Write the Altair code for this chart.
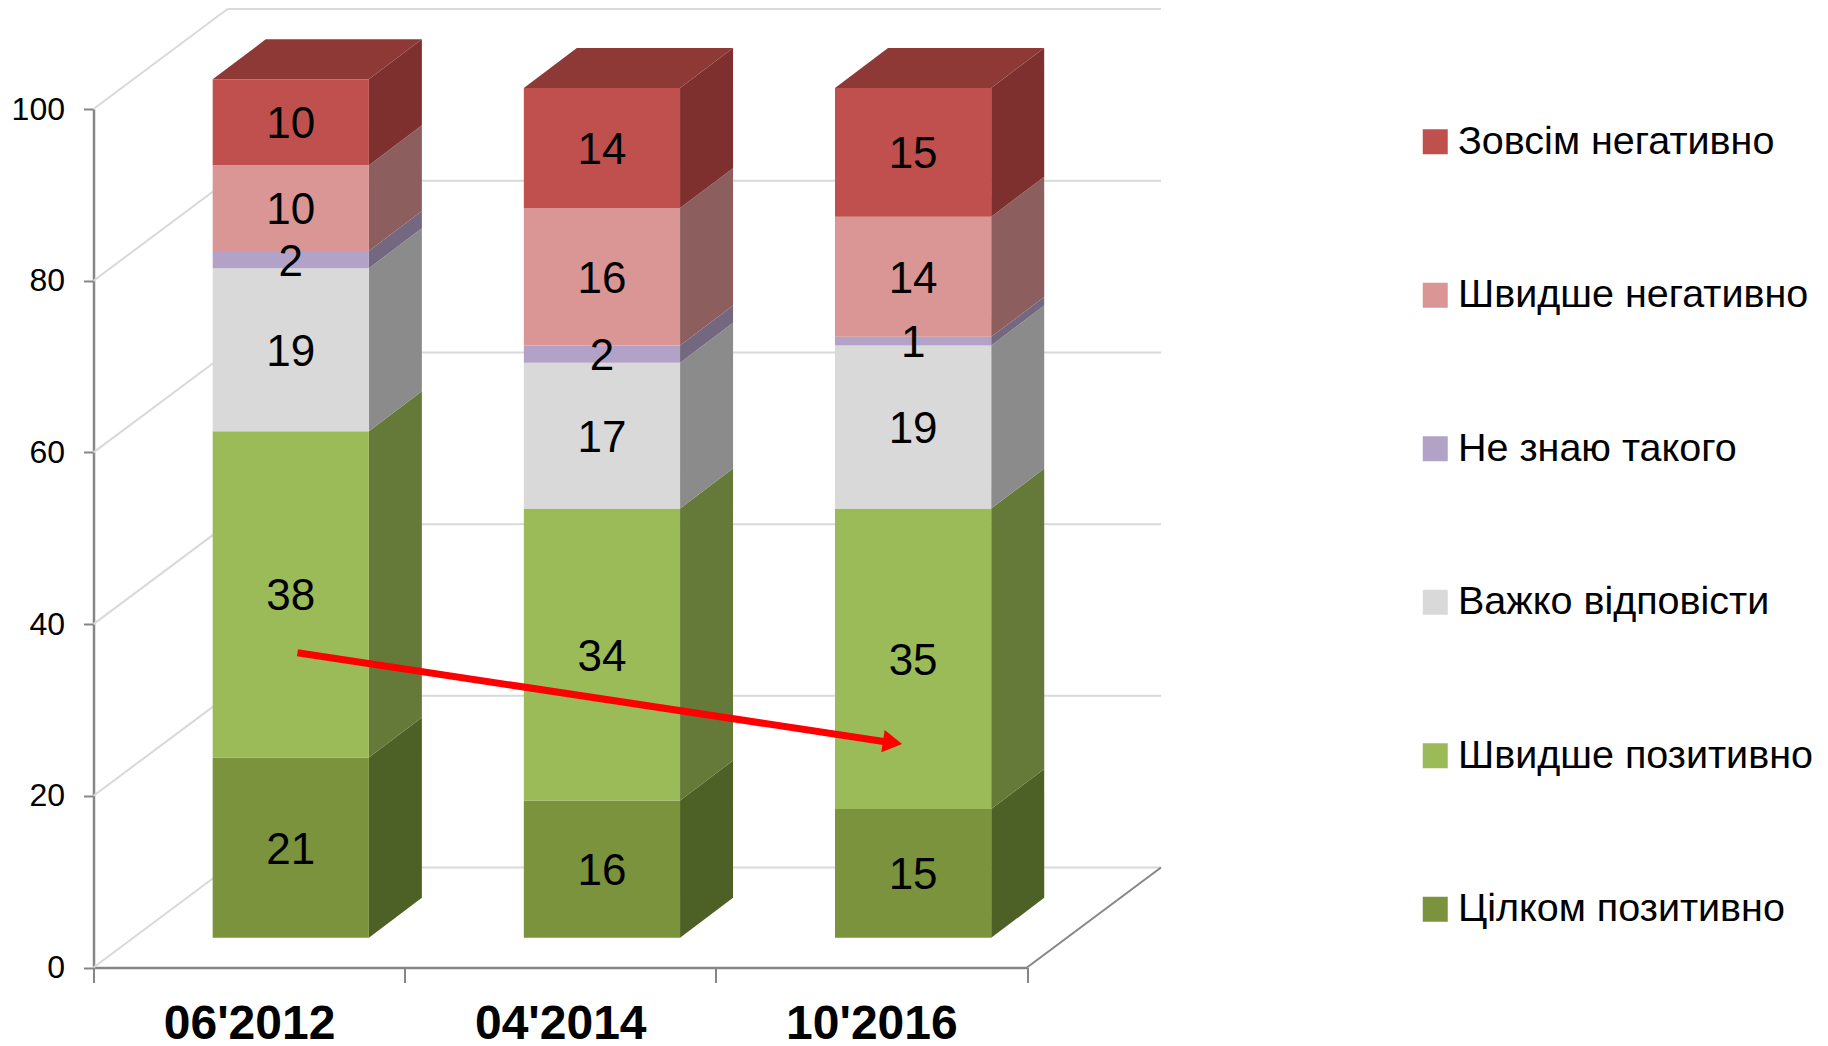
import altair as alt
import pandas as pd

periods = ["06'2012", "04'2014", "10'2016"]
series = ["Зовсім негативно", "Швидше негативно", "Не знаю такого",
          "Важко відповісти", "Швидше позитивно", "Цілком позитивно"]
# stack order bottom to top is the reverse of `series`
v_total_neg = [10, 14, 15]
v_rather_neg = [10, 16, 14]
v_unknown = [2, 2, 1]
v_hard = [19, 17, 19]
v_rather_pos = [38, 34, 35]
v_total_pos = [21, 16, 15]
y_ticks = [0, 20, 40, 60, 80, 100]

front_colors = ["#c0504d", "#d99694", "#b2a2c7", "#d9d9d9", "#9bbb59", "#7a933c"]
side_colors = ["#7d302e", "#8c5e5d", "#73687f", "#8b8b8b", "#657a38", "#4d6126"]
top_color = "#8f3937"
GRID = "#d9d9d9"
AXIS = "#868686"

# 3-D projection, in axis units (one period = 1 on x, percent on y)
WALL_DX, WALL_DY = 0.4306, 11.64
BAR_X0, BAR_Y0 = 0.383, 3.457
BAR_W = 0.502
BAR_DX, BAR_DY = 0.1703, 4.656

values = [v_total_pos, v_rather_pos, v_hard, v_unknown, v_rather_neg, v_total_neg]
names = series[::-1]

front, side, top, labels = [], [], [], []
for i, p in enumerate(periods):
    left = i + BAR_X0
    right = left + BAR_W
    cum = BAR_Y0
    for name, vals in zip(names, values):
        v = vals[i]
        lo, hi = cum, cum + v
        front.append(dict(period=p, series=name, x=left, x2=right, y=lo, y2=hi))
        labels.append(dict(x=(left + right) / 2, y=(lo + hi) / 2, label=str(v)))
        key = f"{p}|{name}"
        side.append(dict(key=key, series=name, x=right, y=lo, y2=hi))
        side.append(dict(key=key, series=name, x=right + BAR_DX, y=lo + BAR_DY, y2=hi + BAR_DY))
        cum = hi
    top.append(dict(key=p, y=cum, x=left, x2=right))
    top.append(dict(key=p, y=cum + BAR_DY, x=left + BAR_DX, x2=right + BAR_DX))

grid_rows = []
for t in y_ticks:
    grid_rows.append(dict(x=0, x2=WALL_DX, y=t, y2=t + WALL_DY))
    grid_rows.append(dict(x=WALL_DX, x2=3 + WALL_DX, y=t + WALL_DY, y2=t + WALL_DY))

XS = alt.Scale(domain=[0, 3], nice=False, zero=False)
YS = alt.Scale(domain=[0, 100], nice=False, zero=False)


def X(f="x"):
    return alt.X(f"{f}:Q", scale=XS, axis=None)


def Y(f="y"):
    return alt.Y(f"{f}:Q", scale=YS, axis=None)


axes = alt.Chart(pd.DataFrame({"period": periods, "zero": [0, 0, 0]})).mark_bar(opacity=0).encode(
    x=alt.X("period:N", sort=periods, title=None,
            scale=alt.Scale(type="band", paddingInner=0, paddingOuter=0),
            axis=alt.Axis(tickBand="extent", labelAngle=0, tickSize=15, tickWidth=2, tickColor=AXIS,
                          domainColor=AXIS, domainWidth=2.5, labelFont="Liberation Sans",
                          labelFontSize=48, labelFontWeight="bold", labelColor="#000000",
                          labelPadding=18, grid=False)),
    y=alt.Y("zero:Q", scale=YS, title=None,
            axis=alt.Axis(values=y_ticks, tickSize=10, tickWidth=2, tickColor=AXIS, domainColor=AXIS,
                          domainWidth=2.5, labelFont="Liberation Sans", labelFontSize=32,
                          labelColor="#000000", labelPadding=19, grid=False)),
)

grid = alt.Chart(pd.DataFrame(grid_rows)).mark_rule(color=GRID, strokeWidth=2).encode(
    x=X(), x2="x2:Q", y=Y(), y2="y2:Q")

floor_edge = alt.Chart(pd.DataFrame([dict(x=3, x2=3 + WALL_DX, y=0, y2=WALL_DY)])).mark_rule(
    color=AXIS, strokeWidth=2).encode(x=X(), x2="x2:Q", y=Y(), y2="y2:Q")

sides = alt.Chart(pd.DataFrame(side)).mark_area(interpolate="linear").encode(
    x=X(), y=Y(), y2="y2:Q", detail="key:N",
    color=alt.Color("series:N", scale=alt.Scale(domain=series, range=side_colors), legend=None))

tops = alt.Chart(pd.DataFrame(top)).mark_area(orient="horizontal", color=top_color).encode(
    y=Y(), x=X(), x2="x2:Q", detail="key:N")

fronts = alt.Chart(pd.DataFrame(front)).mark_rect().encode(
    x=X(), x2="x2:Q", y=Y(), y2="y2:Q",
    color=alt.Color("series:N", scale=alt.Scale(domain=series, range=front_colors),
                    legend=alt.Legend(title=None, orient="none", legendX=1322, legendY=13,
                                      symbolType="square", symbolSize=625, symbolStrokeWidth=0,
                                      symbolOpacity=1, labelFont="Liberation Sans",
                                      labelFontSize=39.5, labelColor="#000000", labelLimit=500,
                                      labelOffset=3, rowPadding=112.5)))

texts = alt.Chart(pd.DataFrame(labels)).mark_text(
    font="Liberation Sans", fontSize=44, color="#000000", baseline="middle", align="center", dy=3
).encode(x=X(), y=Y(), text="label:N")

arrow_x = [0.6555, 2.539]
arrow_y = [36.66, 26.33]
arrow_line = alt.Chart(pd.DataFrame({"x": arrow_x, "y": arrow_y})).mark_line(
    color="#ff0000", strokeWidth=7).encode(x=X(), y=Y())
arrow_head = alt.Chart(pd.DataFrame({"x": [2.568], "y": [26.2]})).mark_point(
    shape="triangle-right", filled=True, color="#ff0000", size=500, angle=8.6, opacity=1).encode(x=X(), y=Y())

chart = alt.layer(axes, grid, floor_edge, sides, tops, fronts, texts, arrow_line, arrow_head).resolve_scale(
    x="independent", color="independent"
).resolve_axis(y="independent").properties(
    width=933.5, height=858.5,
    padding={"left": 2.5, "top": 0, "right": 0, "bottom": 0},
    background="#ffffff",
).configure_view(stroke=None)

chart.save("out.html", embed_options={"renderer": "svg", "actions": False})
